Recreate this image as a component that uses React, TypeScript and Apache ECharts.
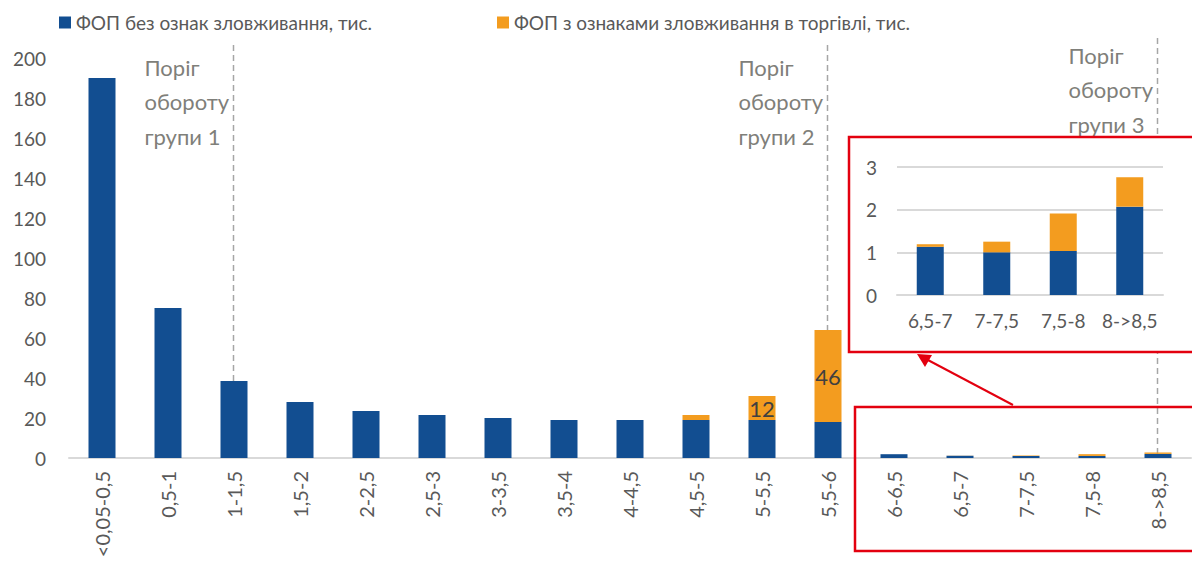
import React, { useEffect, useRef } from "react";
import * as echarts from "echarts";

const categories = ["<0,05-0,5", "0,5-1", "1-1,5", "1,5-2", "2-2,5", "2,5-3", "3-3,5", "3,5-4", "4-4,5", "4,5-5", "5-5,5", "5,5-6", "6-6,5", "6,5-7", "7-7,5", "7,5-8", "8->8,5"];
const normalFop = [190, 75, 38.5, 28, 23.5, 21.5, 20, 19, 19, 19, 19, 18, 1.9, 1.13, 1.0, 1.03, 2.07];
const abusiveFop = [0, 0, 0, 0, 0, 0, 0, 0, 0, 2.5, 12, 46, 0, 0.06, 0.25, 0.88, 0.69];
const insetStart = 13;
const seriesNames = ["ФОП без ознак зловживання, тис.", "ФОП з ознаками зловживання в торгівлі, тис."];
const thresholds = [
  { cat: "1-1,5", text: "Поріг\nобороту\nгрупи 1" },
  { cat: "5,5-6", text: "Поріг\nобороту\nгрупи 2" },
  { cat: "8->8,5", text: "Поріг\nобороту\nгрупи 3" },
];

const BLUE = "#124E91";
const ORANGE = "#F39C1F";
const FONT = "Lato, 'Open Sans', sans-serif";
const LABEL = "#595959";
const RED = "#E3000F";

export default function App() {
  const ref = useRef<HTMLDivElement>(null);
  useEffect(() => {
    document.body.style.margin = "0";
    const chart = echarts.init(ref.current!, undefined, { renderer: "svg" });
    const insetCats = categories.slice(insetStart);
    const option: any = {
      animation: false,
      textStyle: { fontFamily: FONT },
      legend: [
        {
          data: [seriesNames[0]], left: 54, top: 8, icon: "rect", itemWidth: 12, itemHeight: 12, itemGap: 6,
          textStyle: { fontFamily: FONT, fontSize: 19, color: LABEL },
        },
        {
          data: [seriesNames[1]], left: 492, top: 8, icon: "rect", itemWidth: 12, itemHeight: 12,
          textStyle: { fontFamily: FONT, fontSize: 19, color: LABEL },
        },
      ],
      grid: [
        { left: 69, right: 1, top: 58, bottom: 107 },
        { left: 897, right: 29, top: 167, bottom: 270, z: 4 },
      ],
      xAxis: [
        {
          type: "category", data: categories, gridIndex: 0,
          axisLine: { lineStyle: { color: "#d9d9d9", width: 2 } },
          axisTick: { show: false },
          axisLabel: { rotate: 90, margin: 13, fontSize: 20, color: LABEL, fontFamily: FONT, interval: 0 },
        },
        {
          type: "category", data: insetCats, gridIndex: 1, z: 4,
          axisLine: { lineStyle: { color: "#d9d9d9", width: 2 } },
          axisTick: { show: false },
          axisLabel: { margin: 16, fontSize: 19, color: LABEL, fontFamily: FONT, interval: 0 },
        },
      ],
      yAxis: [
        {
          type: "value", gridIndex: 0, min: 0, max: 200, interval: 20,
          splitLine: { show: false }, axisLine: { show: false }, axisTick: { show: false },
          axisLabel: { margin: 23, fontSize: 19, color: LABEL, fontFamily: FONT },
        },
        {
          type: "value", gridIndex: 1, min: 0, max: 3, interval: 1, z: 4,
          splitLine: { lineStyle: { color: "#d9d9d9", width: 2 } }, axisLine: { show: false }, axisTick: { show: false },
          axisLabel: { margin: 20, fontSize: 19, color: LABEL, fontFamily: FONT },
        },
      ],
      series: [
        {
          name: seriesNames[0], type: "bar", stack: "main", xAxisIndex: 0, yAxisIndex: 0,
          data: normalFop, barWidth: 27, itemStyle: { color: BLUE },
        },
        {
          name: seriesNames[1], type: "bar", stack: "main", xAxisIndex: 0, yAxisIndex: 0,
          data: abusiveFop, barWidth: 27, itemStyle: { color: ORANGE },
          label: {
            show: true, position: "inside", fontSize: 22, color: "#404040", fontFamily: FONT,
            formatter: (p: any) => (p.value >= 10 ? String(p.value) : ""),
          },
        },
        {
          name: seriesNames[0], type: "bar", stack: "inset", xAxisIndex: 1, yAxisIndex: 1, z: 5,
          data: normalFop.slice(insetStart), barWidth: 27, itemStyle: { color: BLUE },
        },
        {
          name: seriesNames[1], type: "bar", stack: "inset", xAxisIndex: 1, yAxisIndex: 1, z: 5,
          data: abusiveFop.slice(insetStart), barWidth: 27, itemStyle: { color: ORANGE },
        },
      ],
    };
    chart.setOption(option);

    const tops = [45, 45, 38];
    const graphics: any[] = [];
    thresholds.forEach((t, i) => {
      const x = Math.round(chart.convertToPixel({ xAxisIndex: 0 }, t.cat) as number) - 0.5;
      const y0 = chart.convertToPixel({ yAxisIndex: 0 }, 0) as number;
      graphics.push({
        type: "line", z: 1,
        shape: { x1: x, y1: tops[i], x2: x, y2: y0 },
        style: { stroke: "#a6a6a6", lineWidth: 1.5, lineDash: [6, 4] },
      });
      graphics.push({
        type: "text", z: 1, x: x - 89, y: tops[i] + (i === 2 ? 0 : 5),
        style: { text: t.text, fontSize: 22, lineHeight: 34.5, fill: "#7f7f7a", fontFamily: FONT },
      });
    });
    graphics.push({
      type: "rect", z: 3, shape: { x: 849, y: 137, width: 360, height: 215 },
      style: { fill: "#ffffff", stroke: RED, lineWidth: 2.5 },
    });
    graphics.push({
      type: "rect", z: 10, shape: { x: 855, y: 407, width: 360, height: 144 },
      style: { fill: "none", stroke: RED, lineWidth: 2.5 },
    });
    graphics.push({
      type: "line", z: 10, shape: { x1: 1013, y1: 405, x2: 926, y2: 359 },
      style: { stroke: RED, lineWidth: 2 },
    });
    graphics.push({
      type: "polygon", z: 10, shape: { points: [[917, 354], [932, 355], [925, 367]] },
      style: { fill: RED },
    });
    chart.setOption({ graphic: graphics });
    return () => chart.dispose();
  }, []);
  return <div ref={ref} style={{ width: 1192, height: 565, position: "absolute", left: 0, top: 0 }} />;
}
